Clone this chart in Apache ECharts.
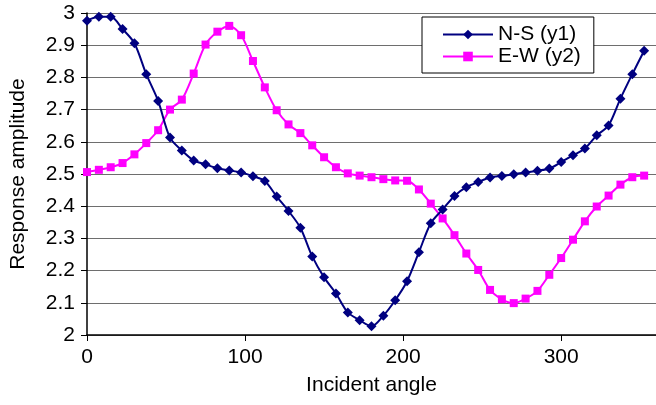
<!DOCTYPE html>
<html>
<head>
<meta charset="utf-8">
<script src="https://cdn.jsdelivr.net/npm/echarts@6/dist/echarts.min.js"></script>
<style>
html,body{margin:0;padding:0;background:#fff;}
#chart{width:656px;height:405px;}
</style>
</head>
<body>
<div id="chart"></div>
<script>
var angles = [0,7.5,15,22.5,30,37.5,45,52.5,60,67.5,75,82.5,90,97.5,105,112.5,120,127.5,135,142.5,150,157.5,165,172.5,180,187.5,195,202.5,210,217.5,225,232.5,240,247.5,255,262.5,270,277.5,285,292.5,300,307.5,315,322.5,330,337.5,345,352.5];
var nsValues = [2.976,2.988,2.988,2.950,2.906,2.810,2.727,2.613,2.573,2.542,2.530,2.518,2.511,2.505,2.493,2.478,2.430,2.385,2.333,2.244,2.179,2.129,2.070,2.046,2.027,2.060,2.108,2.167,2.257,2.347,2.390,2.432,2.459,2.475,2.489,2.494,2.499,2.505,2.510,2.517,2.537,2.558,2.579,2.620,2.651,2.734,2.810,2.883];
var ewValues = [2.506,2.513,2.521,2.534,2.561,2.596,2.636,2.700,2.731,2.812,2.902,2.942,2.960,2.931,2.851,2.769,2.698,2.654,2.627,2.589,2.552,2.521,2.502,2.495,2.490,2.484,2.480,2.479,2.452,2.408,2.362,2.310,2.253,2.202,2.140,2.111,2.099,2.113,2.137,2.187,2.239,2.296,2.353,2.399,2.433,2.467,2.490,2.495];
var seriesNames = ['N-S (y1)','E-W (y2)'];

function pairs(xs, ys){ return xs.map(function(x,i){ return [x, ys[i]]; }); }

var chart = echarts.init(document.getElementById('chart'));
var font = 'Liberation Sans, Arial, sans-serif';
chart.setOption({
  animation:false,
  backgroundColor:'#fff',
  grid:{left:87, right:-4, top:13, bottom:70},
  legend:{
    orient:'vertical', left:422, top:17,
    backgroundColor:'#fff', borderColor:'#000', borderWidth:1, borderRadius:0,
    padding:[7,13,6,20], itemGap:1, itemWidth:50, itemHeight:12,
    textStyle:{fontFamily:font, fontSize:21, color:'#000'},
    data:seriesNames
  },
  xAxis:{
    type:'value', min:0, max:360, interval:100,
    name:'Incident angle', nameLocation:'middle', nameGap:40,
    nameTextStyle:{fontFamily:font, fontSize:21, color:'#000'},
    axisLine:{onZero:false, lineStyle:{color:'#000', width:1.5}},
    axisTick:{show:true, length:6, inside:false, lineStyle:{color:'#000'}},
    axisLabel:{fontFamily:font, fontSize:21, color:'#000', margin:12, showMaxLabel:false},
    splitLine:{show:false}
  },
  yAxis:{
    type:'value', min:2, max:3, interval:0.1,
    name:'Response amplitude', nameLocation:'middle', nameGap:58,
    nameTextStyle:{fontFamily:font, fontSize:21, color:'#000'},
    axisLine:{show:true, lineStyle:{color:'#000', width:1.5}},
    axisTick:{show:true, length:6, lineStyle:{color:'#000'}},
    axisLabel:{fontFamily:font, fontSize:21, color:'#000', margin:12,
      formatter:function(v){ return (Math.round(v*10)/10).toString(); }},
    splitLine:{show:true, lineStyle:{color:'#6e6e6e', width:1.2}}
  },
  series:[
    {
      name:seriesNames[0], type:'line', data:pairs(angles, nsValues),
      smooth:0.3, symbol:'diamond', symbolSize:10,
      lineStyle:{color:'#000080', width:2},
      itemStyle:{color:'#000080'}, z:3
    },
    {
      name:seriesNames[1], type:'line', data:pairs(angles, ewValues),
      smooth:0.3, symbol:'rect', symbolSize:8,
      lineStyle:{color:'#ff00ff', width:2},
      itemStyle:{color:'#ff00ff'}, z:2
    }
  ]
});
</script>
</body>
</html>
